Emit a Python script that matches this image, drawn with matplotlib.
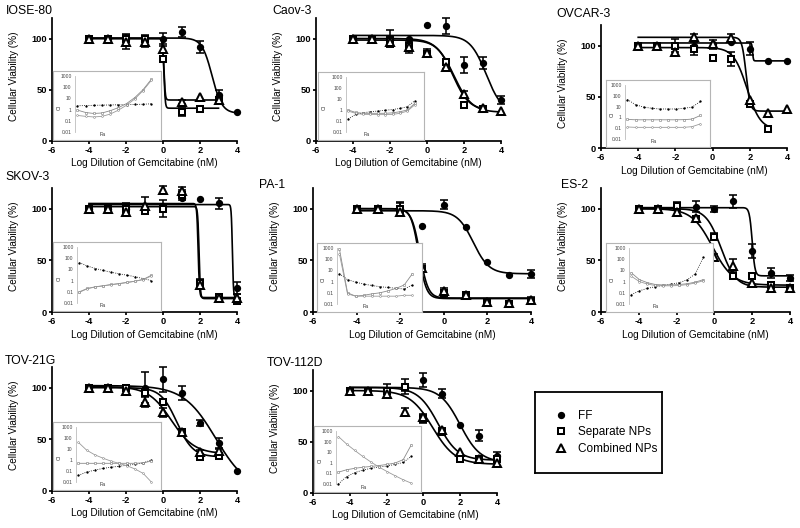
import numpy as np
import matplotlib
matplotlib.use('Agg')
import matplotlib.pyplot as plt
from matplotlib.lines import Line2D
from matplotlib.ticker import NullLocator

plt.rcParams['font.family'] = ['Liberation Sans', 'DejaVu Sans']
plt.rcParams['axes.unicode_minus'] = False

W, H = 800, 528
nan = float('nan')

# ---------------- data ----------------
DOSES = [-4, -3, -2, -1, 0, 1, 2, 3, 4]
X_TICKS = [-6, -4, -2, 0, 2, 4]
Y_TICKS = [0, 50, 100]
SERIES_LABELS = ['FF', 'Separate NPs', 'Combined NPs']
CI_TICKS = [0.01, 0.1, 1, 10, 100, 1000]
CI_TICK_LABELS = ['0.01', '0.1', '1', '10', '100', '1000']
FA = [0.03, 0.13, 0.23, 0.33, 0.43, 0.53, 0.63, 0.73, 0.83, 0.93]

TITLES = ['IOSE-80', 'Caov-3', 'OVCAR-3', 'SKOV-3', 'PA-1', 'ES-2', 'TOV-21G', 'TOV-112D']

# viability means / errors ; fit = [top, bottom, logIC50, hill]
IOSE80_FF = [100, 100, 100, 100, 100, 106, 92, 45, 28]
IOSE80_FF_ERR = [0, 0, 0, 0, 5, 5, 6, 5, 0]
IOSE80_SEP = [100, 100, 100, 100, 80, 28, 31, 40, nan]
IOSE80_SEP_ERR = [0, 0, 3, 3, 3, 4, 0, 3, 0]
IOSE80_COMB = [100, 100, 97, 97, 90, 38, 43, 40, nan]
IOSE80_COMB_ERR = [0, 0, 7, 5, 3, 2, 0, 2, 0]
IOSE80_FIT = [[100.5, 27, 2.65, 1.6], [100, 32, 0.05, 12], [100, 40, 0.05, 12]]

CAOV3_FF = [100, 100, 100, 100, 113, 112, 74, 76, 40]
CAOV3_FF_ERR = [0, 0, 8, 0, 0, 8, 8, 6, 4]
CAOV3_SEP = [100, 100, 98, 93, 85, 77, 35, 31, nan]
CAOV3_SEP_ERR = [0, 0, 3, 0, 3, 0, 0, 0, 0]
CAOV3_COMB = [100, 100, 97, 92, 86, 72, 46, 32, 29]
CAOV3_COMB_ERR = [0, 0, 5, 6, 4, 2, 3, 2, 0]
CAOV3_FIT = [[103, 27, 3.2, 1.0], [98.5, 30, 1.4, 1.0], [100, 28, 1.45, 0.9]]

OVCAR3_FF = [100, 100, 100, 100, 101, 103, 97, 85, 85]
OVCAR3_FF_ERR = [0, 0, 0, 0, 4, 0, 6, 0, 0]
OVCAR3_SEP = [100, 100, 100, 97, 88, 87, 43, 19, nan]
OVCAR3_SEP_ERR = [0, 0, 6, 6, 0, 7, 0, 0, 0]
OVCAR3_COMB = [100, 100, 94, 108, 101, 107, 47, 34, 38]
OVCAR3_COMB_ERR = [0, 0, 0, 3, 0, 4, 0, 0, 0]
OVCAR3_FIT = [[102.5, 85, 2.15, 20], [98, 18, 1.85, 1.2], [108, 36, 1.8, 4]]

SKOV3_FF = [100, 100, 100, 100, 103, 110, 109, 105, 23]
SKOV3_FF_ERR = [0, 0, 0, 0, 0, 0, 0, 5, 6]
SKOV3_SEP = [100, 100, 100, 98, 100, 113, 28, 15, 11]
SKOV3_SEP_ERR = [0, 0, 5, 0, 8, 5, 4, 0, 0]
SKOV3_COMB = [100, 100, 97, 103, 118, 117, 26, 14, 14]
SKOV3_COMB_ERR = [0, 0, 4, 8, 4, 4, 3, 0, 3]
SKOV3_FIT = [[104, 14, 3.75, 15], [102, 13, 1.95, 12], [105, 14, 1.9, 12]]

PA1_FF = [100, 100, 100, 83, 104, 82, 48, 36, 37]
PA1_FF_ERR = [0, 0, 6, 0, 4, 0, 0, 0, 4]
PA1_SEP = [100, 100, 100, 42, 18, 16, 9, 8, 11]
PA1_SEP_ERR = [0, 0, 5, 3, 2, 0, 0, 0, 3]
PA1_COMB = [100, 100, 97, 43, 20, 16, 10, 9, 12]
PA1_COMB_ERR = [0, 0, 4, 3, 3, 2, 0, 0, 3]
PA1_FIT = [[98, 37, 1.35, 1.2], [100, 13, -1.15, 2.5], [100, 13.5, -1.1, 2.3]]

ES2_FF = [100, 100, 100, 102, 100, 107, 59, 38, 33]
ES2_FF_ERR = [0, 0, 0, 5, 3, 6, 7, 5, 3]
ES2_SEP = [100, 100, 103, 90, 73, 35, 35, 26, 23]
ES2_SEP_ERR = [0, 0, 3, 2, 3, 0, 0, 0, 0]
ES2_COMB = [100, 100, 97, 91, 53, 45, 28, 23, 23]
ES2_COMB_ERR = [0, 0, 3, 0, 3, 6, 0, 0, 0]
ES2_FIT = [[101, 35, 2.0, 6], [100, 24, 0.35, 1.1], [100, 26, -0.1, 0.8]]

TOV21G_FF = [100, 100, 100, 100, 108, 95, 66, 46, 19]
TOV21G_FF_ERR = [0, 0, 0, 15, 12, 7, 3, 5, 0]
TOV21G_SEP = [100, 100, 100, 95, 86, 57, 33, 34, nan]
TOV21G_SEP_ERR = [0, 0, 3, 0, 2, 3, 0, 0, 0]
TOV21G_COMB = [100, 100, 97, 86, 76, 57, 38, 39, nan]
TOV21G_COMB_ERR = [0, 0, 0, 5, 4, 0, 2, 3, 0]
TOV21G_FIT = [[102, 0, 2.85, 0.5], [100, 33, 0.75, 1.0], [101, 36, 0.45, 0.7]]

TOV112D_FF = [100, 100, 100, 104, 110, 97, 66, 56, 36]
TOV112D_FF_ERR = [0, 0, 6, 7, 7, 4, 0, 5, 4]
TOV112D_SEP = [100, 100, 100, 103, 72, 60, 33, 33, 33]
TOV112D_SEP_ERR = [0, 0, 0, 3, 4, 3, 0, 0, 0]
TOV112D_COMB = [100, 100, 97, 79, 74, 61, 40, 33, 29]
TOV112D_COMB_ERR = [0, 0, 4, 4, 3, 2, 0, 0, 0]
TOV112D_FIT = [[103, 30, 2.0, 0.8], [103, 32, 0.8, 0.8], [100, 28, 0.5, 0.7]]

# combination-index insets (CI vs Fa)
IOSE80_CI_FF = [2.2, 2.3, 2.4, 2.5, 2.6, 2.7, 2.8, 2.9, 3.0, 3.3]
IOSE80_CI_SEP = [0.9, 0.55, 0.45, 0.5, 0.8, 1.5, 3.5, 12, 60, 500]
IOSE80_CI_COMB = [0.3, 0.25, 0.22, 0.25, 0.4, 0.9, 2.5, 9, 50, 400]

CAOV3_CI_FF = [0.15, 0.4, 0.55, 0.7, 0.8, 0.95, 1.1, 1.4, 2.0, 7]
CAOV3_CI_SEP = [1.0, 0.6, 0.5, 0.5, 0.5, 0.5, 0.55, 0.7, 1.0, 4]
CAOV3_CI_COMB = [0.8, 0.5, 0.4, 0.4, 0.38, 0.38, 0.4, 0.5, 0.8, 3]

OVCAR3_CI_FF = [45, 15, 9, 7, 6, 6, 6, 7, 9, 30]
OVCAR3_CI_SEP = [0.65, 0.6, 0.6, 0.6, 0.6, 0.6, 0.6, 0.62, 0.7, 1.5]
OVCAR3_CI_COMB = [0.13, 0.12, 0.12, 0.12, 0.12, 0.12, 0.12, 0.12, 0.14, 0.25]

SKOV3_CI_FF = [40, 20, 12, 8, 5.5, 4, 3, 2.2, 1.5, 1.0]
SKOV3_CI_SEP = [0.1, 0.2, 0.28, 0.35, 0.45, 0.55, 0.7, 0.9, 1.3, 3]
SKOV3_CI_COMB = [0.09, 0.19, 0.27, 0.34, 0.43, 0.53, 0.68, 0.88, 1.25, 2.6]

PA1_CI_FF = [5, 1.5, 0.9, 0.6, 0.45, 0.35, 0.3, 0.25, 0.22, 0.5]
PA1_CI_SEP = [800, 0.1, 0.05, 0.06, 0.08, 0.1, 0.15, 0.25, 0.5, 5]
PA1_CI_COMB = [300, 0.08, 0.05, 0.05, 0.05, 0.05, 0.05, 0.05, 0.06, 0.06]

ES2_CI_FF = [0.07, 0.15, 0.25, 0.35, 0.45, 0.6, 0.8, 1.5, 5, 150]
ES2_CI_SEP = [6, 1.5, 0.8, 0.55, 0.5, 0.5, 0.55, 0.65, 0.9, 1.5]
ES2_CI_COMB = [3, 1, 0.6, 0.45, 0.42, 0.42, 0.45, 0.55, 0.75, 1.2]

TOV21G_CI_FF = [0.04, 0.08, 0.12, 0.17, 0.22, 0.27, 0.33, 0.4, 0.55, 1.0]
TOV21G_CI_SEP = [0.5, 0.5, 0.5, 0.5, 0.5, 0.5, 0.5, 0.5, 0.55, 0.8]
TOV21G_CI_COMB = [40, 8, 3, 1.5, 0.8, 0.5, 0.3, 0.15, 0.06, 0.01]

TOV112D_CI_FF = [0.01, 0.05, 0.12, 0.2, 0.3, 0.4, 0.5, 0.7, 1.1, 4]
TOV112D_CI_SEP = [0.13, 0.22, 0.3, 0.38, 0.45, 0.55, 0.7, 0.95, 2, 50]
TOV112D_CI_COMB = [300, 60, 15, 4, 1.2, 0.4, 0.15, 0.06, 0.025, 0.012]

# ---------------- layout (pixels) ----------------
# main axes: x0, y_top(=120%), x1, y_bottom(=0%)
MAIN_BOX = [(52, 18, 237, 141), (316, 18, 501, 141), (601, 25, 787, 148),
            (52, 188, 237, 312), (313, 188, 531, 312), (601, 188, 790, 312),
            (52, 367, 237, 491), (313, 370, 497, 493)]
INSET_BOX = [(53, 71, 161, 140), (318, 72, 424, 140), (606, 80, 710, 147),
             (53, 242, 161, 311), (317, 243, 422, 312), (606, 243, 713, 312),
             (53, 422, 161, 490), (314, 426, 421, 492)]
INNER_LEFT = [22, 28, 19, 24, 20, 23, 23, 22]
TITLE_POS = [(6, 11), (272, 11), (556, 14), (5, 177), (259, 185), (561, 185),
             (5, 361), (267, 363)]

panel_data = [
    (IOSE80_FF, IOSE80_FF_ERR, IOSE80_SEP, IOSE80_SEP_ERR, IOSE80_COMB, IOSE80_COMB_ERR, IOSE80_FIT,
     IOSE80_CI_FF, IOSE80_CI_SEP, IOSE80_CI_COMB),
    (CAOV3_FF, CAOV3_FF_ERR, CAOV3_SEP, CAOV3_SEP_ERR, CAOV3_COMB, CAOV3_COMB_ERR, CAOV3_FIT,
     CAOV3_CI_FF, CAOV3_CI_SEP, CAOV3_CI_COMB),
    (OVCAR3_FF, OVCAR3_FF_ERR, OVCAR3_SEP, OVCAR3_SEP_ERR, OVCAR3_COMB, OVCAR3_COMB_ERR, OVCAR3_FIT,
     OVCAR3_CI_FF, OVCAR3_CI_SEP, OVCAR3_CI_COMB),
    (SKOV3_FF, SKOV3_FF_ERR, SKOV3_SEP, SKOV3_SEP_ERR, SKOV3_COMB, SKOV3_COMB_ERR, SKOV3_FIT,
     SKOV3_CI_FF, SKOV3_CI_SEP, SKOV3_CI_COMB),
    (PA1_FF, PA1_FF_ERR, PA1_SEP, PA1_SEP_ERR, PA1_COMB, PA1_COMB_ERR, PA1_FIT,
     PA1_CI_FF, PA1_CI_SEP, PA1_CI_COMB),
    (ES2_FF, ES2_FF_ERR, ES2_SEP, ES2_SEP_ERR, ES2_COMB, ES2_COMB_ERR, ES2_FIT,
     ES2_CI_FF, ES2_CI_SEP, ES2_CI_COMB),
    (TOV21G_FF, TOV21G_FF_ERR, TOV21G_SEP, TOV21G_SEP_ERR, TOV21G_COMB, TOV21G_COMB_ERR, TOV21G_FIT,
     TOV21G_CI_FF, TOV21G_CI_SEP, TOV21G_CI_COMB),
    (TOV112D_FF, TOV112D_FF_ERR, TOV112D_SEP, TOV112D_SEP_ERR, TOV112D_COMB, TOV112D_COMB_ERR, TOV112D_FIT,
     TOV112D_CI_FF, TOV112D_CI_SEP, TOV112D_CI_COMB),
]


def px_rect(x0, y0, x1, y1):
    return [x0 / W, 1 - y1 / H, (x1 - x0) / W, (y1 - y0) / H]


def four_pl(x, p):
    top, bottom, logec, hill = p
    return bottom + (top - bottom) / (1 + 10 ** ((x - logec) * hill))


MARKERS = [dict(marker='o', ms=3.8, mfc='black'),
           dict(marker='s', ms=4.8, mfc='white'),
           dict(marker='^', ms=5.6, mfc='white')]
INSET_STYLE = [dict(color='black', lw=0.6, ls=':', marker='o', ms=1.3, mfc='black', mec='black', mew=0.3),
               dict(color='#8a8a8a', lw=0.6, ls='-', marker='s', ms=1.4, mfc='white', mec='#777777', mew=0.4),
               dict(color='#9a9a9a', lw=0.6, ls='-', marker='o', ms=1.3, mfc='white', mec='#888888', mew=0.4)]

fig = plt.figure(figsize=(W / 100, H / 100), dpi=100)
fig.patch.set_facecolor('white')

x_arr = np.array(DOSES, float)
for i, data in enumerate(panel_data):
    x0, yt, x1, yb = MAIN_BOX[i]
    wpx, hpx = x1 - x0, yb - yt
    ax = fig.add_axes(px_rect(x0, yt, x1, yb))
    ax.set_xlim(-6, 4)
    ax.set_ylim(0, 120)
    for s in ['top', 'right']:
        ax.spines[s].set_visible(False)
    for s in ['left', 'bottom']:
        ax.spines[s].set_linewidth(1.25)
    ax.set_xticks(X_TICKS)
    ax.set_yticks(Y_TICKS)
    ax.tick_params(direction='out', length=2.5, width=1.25, labelsize=6.7, pad=1.2)
    for lab in ax.get_xticklabels() + ax.get_yticklabels():
        lab.set_fontweight('bold')
    ax.set_xlabel('Log Dilution of Gemcitabine (nM)', fontsize=7.2)
    ax.xaxis.set_label_coords(0.5, -17.5 / hpx)
    ax.set_ylabel('Cellular Viability (%)', fontsize=7.2)
    ax.yaxis.set_label_coords(-33.0 / wpx, 0.53)

    fits = data[6]
    for k in range(3):
        y = np.array(data[2 * k], float)
        e = np.array(data[2 * k + 1], float)
        m = ~np.isnan(y)
        xc = np.linspace(x_arr[m].min(), x_arr[m].max(), 400)
        ax.plot(xc, four_pl(xc, fits[k]), color='black', lw=1.2, zorder=3, clip_on=False)
        me = m & (e > 0)
        ax.errorbar(x_arr[me], y[me], yerr=e[me], fmt='none', ecolor='black',
                    elinewidth=1.15, capsize=3, capthick=1.15, zorder=4, clip_on=False)
        ax.plot(x_arr[m], y[m], linestyle='none', mec='black', mew=1.45, zorder=5,
                clip_on=False, **MARKERS[k])

    fig.text(TITLE_POS[i][0] / W, 1 - TITLE_POS[i][1] / H, TITLES[i],
             fontsize=8.8, ha='left', va='center')

    # inset
    bx0, by0, bx1, by1 = INSET_BOX[i]
    box = fig.add_axes(px_rect(bx0, by0, bx1, by1))
    box.set_zorder(5)
    box.set_xticks([])
    box.set_yticks([])
    box.set_facecolor('white')
    for s in box.spines.values():
        s.set_edgecolor('#b5b5b5')
        s.set_linewidth(0.8)
    inner = fig.add_axes(px_rect(bx0 + INNER_LEFT[i], by0 + 5, bx1 - 4, by1 - 8))
    inner.set_zorder(6)
    inner.patch.set_alpha(0)
    inner.set_yscale('log')
    inner.set_ylim(0.01, 1000)
    inner.set_xlim(0, 1)
    inner.set_yticks(CI_TICKS)
    inner.set_yticklabels(CI_TICK_LABELS)
    inner.yaxis.set_minor_locator(NullLocator())
    inner.set_xticks([])
    for s in ['top', 'right', 'bottom']:
        inner.spines[s].set_visible(False)
    inner.spines['left'].set_color('#bdbdbd')
    inner.spines['left'].set_linewidth(0.6)
    inner.tick_params(axis='y', length=0, labelsize=3.6, labelcolor='#444444', pad=2.5)
    for k in range(3):
        inner.plot(FA, data[7 + k], clip_on=False, **INSET_STYLE[k])
    box.text(6.0 / (bx1 - bx0), 0.48, 'CI', rotation=90, fontsize=3.8,
             color='#333333', ha='center', va='center', transform=box.transAxes)
    box.text(0.46, 0.075, 'Fa', fontsize=3.8, color='#333333', ha='center',
             va='center', transform=box.transAxes)

# legend box
lax = fig.add_axes(px_rect(535, 392, 662, 473))
lax.set_xticks([])
lax.set_yticks([])
lax.patch.set_alpha(0)
for s in lax.spines.values():
    s.set_linewidth(1.3)
    s.set_color('black')
handles = [Line2D([], [], linestyle='none', mec='black', mew=1.45, **MARKERS[k]) for k in range(3)]
fig.legend(handles, SERIES_LABELS, loc='center left',
           bbox_to_anchor=(548 / W, 1 - 432.5 / H), frameon=False, fontsize=8.5,
           handlelength=1.2, handletextpad=0.85, labelspacing=0.35, borderpad=0)

fig.savefig('out.png', dpi=100, facecolor='white')
